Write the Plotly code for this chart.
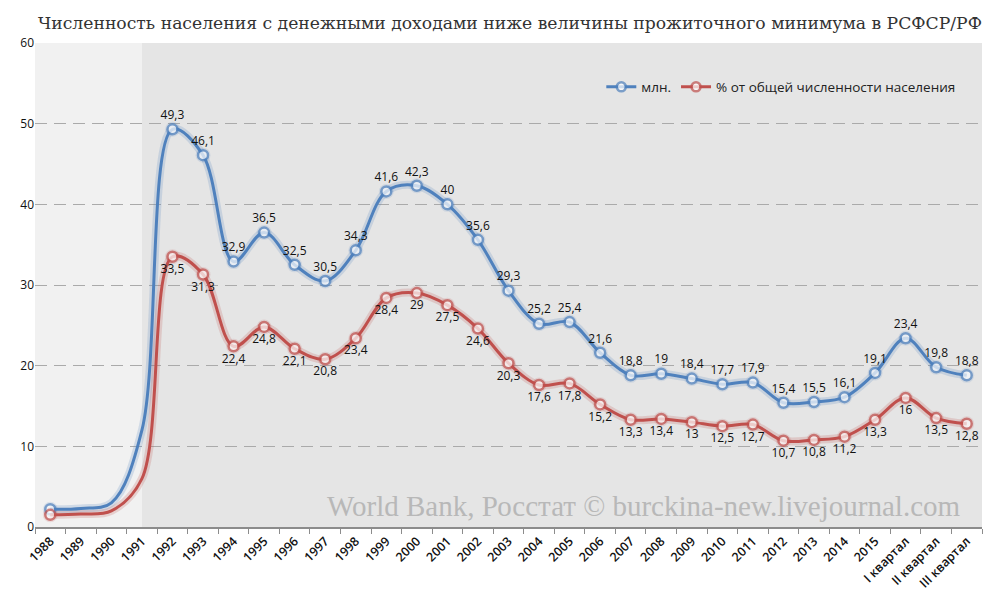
import plotly.graph_objects as go

categories = [str(y) for y in range(1988, 2016)] + ["I квартал", "II квартал", "III квартал"]

# млн. человек (1989-1991; no markers there)
mln = [2.2, 2.3, 3.0, 12.0, 49.3, 46.1, 32.9, 36.5, 32.5, 30.5, 34.3, 41.6, 42.3, 40.0,
       35.6, 29.3, 25.2, 25.4, 21.6, 18.8, 19.0, 18.4, 17.7, 17.9, 15.4, 15.5, 16.1, 19.1,
       23.4, 19.8, 18.8]
# % от общей численности населения
pct = [1.51, 1.6, 2.0, 6.0, 33.5, 31.3, 22.4, 24.8, 22.1, 20.8, 23.4, 28.4, 29.0, 27.5,
       24.6, 20.3, 17.6, 17.8, 15.2, 13.3, 13.4, 13.0, 12.5, 12.7, 10.7, 10.8, 11.2, 13.3,
       16.0, 13.5, 12.8]
hidden = {"1989", "1990", "1991"}
first_label = "2,2/1,51%"

y_ticks = [0, 10, 20, 30, 40, 50, 60]

BLUE = "#4f81bd"
RED = "#c0504d"
SMOOTH = 1.0

# the page has an 8px body margin; size the figure so the plot sits where the reference has it
W, H = 992, 585


def fmt(v):
    s = ("%.1f" % v).rstrip("0").rstrip(".")
    return s.replace(".", ",")


mln_text = []
pct_text = []
for c, a, b in zip(categories, mln, pct):
    if c in hidden or c == "1988":
        mln_text.append("")
        pct_text.append("")
    else:
        mln_text.append(fmt(a))
        pct_text.append(fmt(b))

msize = [0 if c in hidden else 10 for c in categories]
gsize = [0 if c in hidden else 15 for c in categories]

fig = go.Figure()

for vals, rgba in [(mln, "rgba(79,129,189,0.20)"), (pct, "rgba(192,80,77,0.20)")]:
    fig.add_trace(go.Scatter(
        x=categories, y=vals, mode="lines+markers",
        line=dict(color=rgba, width=8, shape="spline", smoothing=SMOOTH),
        marker=dict(size=gsize, color=rgba, line=dict(width=0)),
        showlegend=False, hoverinfo="skip"))

fig.add_trace(go.Scatter(
    x=categories, y=mln, mode="lines+markers+text", name="млн.",
    line=dict(color=BLUE, width=3, shape="spline", smoothing=SMOOTH),
    marker=dict(size=msize, color="white", line=dict(color=BLUE, width=2.5)),
    text=mln_text, textposition="top center",
    textfont=dict(family="Open Sans", size=12, color="#111")))

fig.add_trace(go.Scatter(
    x=categories, y=pct, mode="lines+markers+text", name="% от общей численности населения",
    line=dict(color=RED, width=3, shape="spline", smoothing=SMOOTH),
    marker=dict(size=msize, color="white", line=dict(color=RED, width=2.5)),
    text=pct_text, textposition="bottom center",
    textfont=dict(family="Open Sans", size=12, color="#111")))

shapes = [
    dict(type="rect", xref="x", yref="paper", x0=-0.5, x1=3.0, y0=0, y1=1,
         fillcolor="#f1f1f1", line=dict(width=0), layer="below"),
    dict(type="rect", xref="x", yref="paper", x0=3.0, x1=30.5, y0=0, y1=1,
         fillcolor="#e5e5e5", line=dict(width=0), layer="below"),
]

fig.update_layout(
    width=W, height=H,
    margin=dict(l=27, r=18, t=35, b=66),
    paper_bgcolor="white", plot_bgcolor="white",
    shapes=shapes,
    title=dict(text="Численность населения с денежными доходами ниже величины прожиточного минимума в РСФСР/РФ",
               x=30 / W, xanchor="left", y=1 - 15 / H, yanchor="middle",
               font=dict(family="DejaVu Serif", size=17.2, color="#333")),
    legend=dict(orientation="h", x=0.598, xanchor="left", y=0.909, yanchor="middle",
                bgcolor="rgba(0,0,0,0)", font=dict(family="Open Sans", size=13.5, color="#222")),
    xaxis=dict(type="category", range=[-0.5, 30.5], tickangle=-45, automargin=False,
               tickfont=dict(family="Open Sans", size=12.5, color="#111", weight=600),
               showgrid=False, showline=True, linecolor="#8c8c8c", linewidth=2,
               ticks="outside", ticklen=5, tickcolor="#8c8c8c", tickson="boundaries",
               zeroline=False),
    yaxis=dict(range=[0, 60], tickvals=y_ticks, automargin=False,
               tickfont=dict(family="Open Sans", size=12, color="#111"),
               showgrid=True, gridcolor="#aaaaaa", griddash="12px,7px", gridwidth=1,
               zeroline=False, showline=False, ticks=""),
    annotations=[
        dict(text="World Bank, Росстат © burckina-new.livejournal.com",
             xref="paper", yref="paper", x=0.98, xanchor="right", y=0.044, yanchor="middle",
             showarrow=False,
             font=dict(family="Liberation Serif", size=29, color="#b8b8b8")),
        dict(text=first_label, x=categories[0], y=mln[0], xref="x", yref="y",
             xanchor="left", yanchor="middle", xshift=-9, yshift=25, showarrow=False,
             font=dict(family="Open Sans", size=12, color="#111")),
    ],
)

fig.write_html("out.html")
